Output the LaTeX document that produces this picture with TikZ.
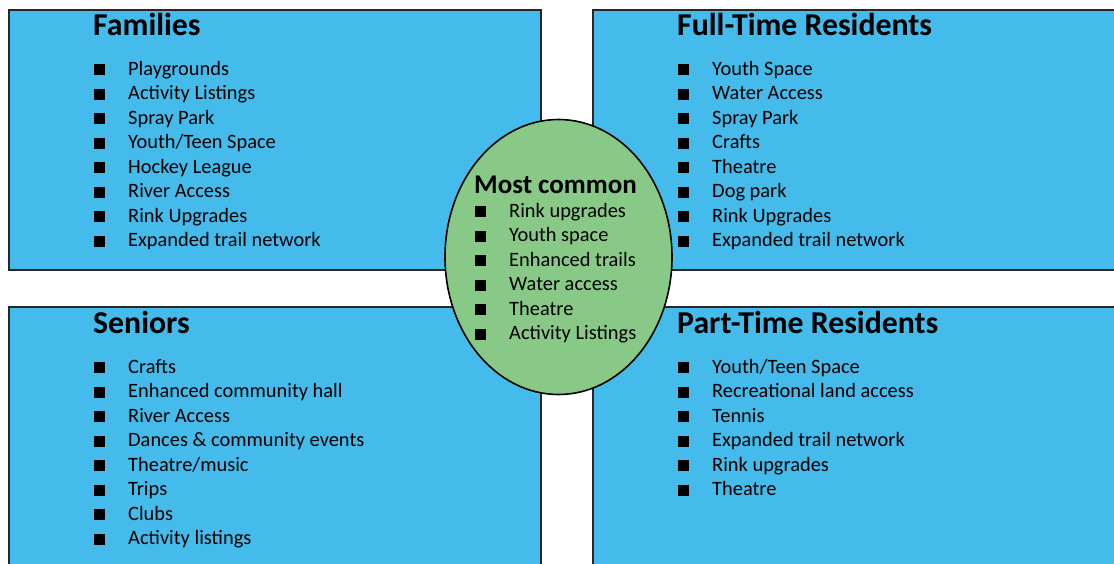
\documentclass[tikz,border=0pt]{standalone}
\usepackage{fontspec}
\setmainfont{Carlito}
\definecolor{boxblue}{RGB}{69,187,235}
\definecolor{ovalgreen}{RGB}{136,201,136}
\tikzset{
  panel/.style={fill=boxblue, draw=black!85, line width=2pt},
  oval/.style={ellipse, fill=ovalgreen, draw=black, line width=1.6pt, inner sep=0pt},
  heading/.style={anchor=base west, inner sep=0pt, font=\fontsize{31.8}{38}\selectfont\bfseries},
  ovalhead/.style={anchor=base west, inner sep=0pt, font=\fontsize{27}{32}\selectfont\bfseries},
  entry/.style={anchor=base west, inner sep=0pt, font=\fontsize{20.4}{24}\selectfont},
  bulletbox/.style={fill=black},
}
\newcommand\mybulletlist[5]{%
  \foreach \t [count=\i from 0] in {#5}{%
    \pgfmathsetmacro\yb{#4+24.57*\i}
    \fill[bulletbox] (#2,\yb-11) rectangle ++(11,11);
    \node[entry] (#1-\i) at (#3,\yb) {\t};
  }%
}
\usetikzlibrary{shapes.geometric}
\begin{document}
\begin{tikzpicture}[x=1pt,y=-1pt]
\useasboundingbox (0,0) rectangle (1114,563);
\clip (0,0) rectangle (1114,563);
% panels
\draw[panel] (8.5,10) rectangle (541,269.5);
\draw[panel] (593,10) rectangle (1125,269.5);
\draw[panel] (8.5,307) rectangle (541,575);
\draw[panel] (593,307) rectangle (1125,575);
% headings
\node[heading] (fam) at (93,35) {Families};
\node[heading] (full) at (677,35) {Full-Time Residents};
\node[heading] (sen) at (93,333) {Seniors};
\node[heading] (part) at (677,333) {Part-Time Residents};
% lists
\mybulletlist{f}{94}{128}{75}{Playgrounds,Activity Listings,Spray Park,Youth/Teen Space,Hockey League,River Access,Rink Upgrades,Expanded trail network}
\mybulletlist{r}{678}{712}{75}{Youth Space,Water Access,Spray Park,Crafts,Theatre,Dog park,Rink Upgrades,Expanded trail network}
\mybulletlist{s}{94}{128}{373}{Crafts,Enhanced community hall,River Access,Dances \& community events,Theatre/music,Trips,Clubs,Activity listings}
\mybulletlist{p}{678}{712}{373}{Youth/Teen Space,Recreational land access,Tennis,Expanded trail network,Rink upgrades,Theatre}
% centre oval
\node[oval, minimum width=227pt, minimum height=275pt] (common) at (558.5,257) {};
\node[ovalhead] (mc) at (474,193) {Most common};
\mybulletlist{c}{475}{509}{217}{Rink upgrades,Youth space,Enhanced trails,Water access,Theatre,Activity Listings}
\end{tikzpicture}
\end{document}
